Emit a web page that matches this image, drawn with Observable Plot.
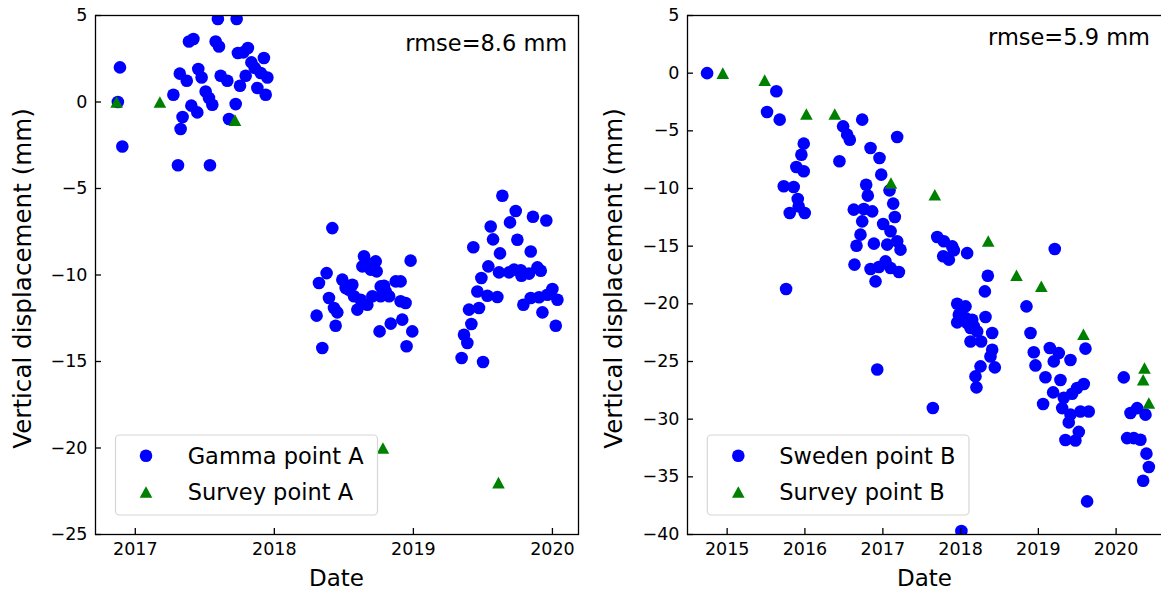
<!DOCTYPE html>
<html>
<head>
<meta charset="utf-8">
<script src="https://cdn.jsdelivr.net/npm/d3@7"></script>
<script src="https://cdn.jsdelivr.net/npm/@observablehq/plot@0.6"></script>
<style>
  html, body { margin: 0; padding: 0; background: #fff; overflow: hidden; }
  #wrap { position: relative; width: 1161px; height: 594px; overflow: hidden; }
  #wrap svg { position: absolute; top: 0; }
</style>
</head>
<body>
<div id="wrap"></div>
<script>
// Observations as [decimal year, vertical displacement in mm]
const gammaA = [
  [2016.875, 0.0], [2016.89, 2.0], [2016.907, -2.57],
  [2017.274, 0.42], [2017.307, -3.66], [2017.32, 1.64], [2017.326, -1.56], [2017.34, -0.87],
  [2017.37, 1.23], [2017.386, 3.5], [2017.403, -0.21], [2017.418, 3.64], [2017.446, -0.6],
  [2017.453, 1.91], [2017.477, 1.42], [2017.506, 0.61], [2017.53, 0.23], [2017.537, -3.66],
  [2017.554, -0.16], [2017.578, 3.5], [2017.594, 4.8], [2017.602, 3.21], [2017.614, 1.52],
  [2017.662, 1.23], [2017.674, -0.98], [2017.722, -0.12], [2017.729, 4.8], [2017.738, 2.83],
  [2017.753, 0.94], [2017.777, 2.87], [2017.794, 1.52], [2017.81, 3.12], [2017.835, 2.29],
  [2017.859, 1.97], [2017.878, 0.81], [2017.902, 1.68], [2017.925, 2.54], [2017.938, 0.42],
  [2017.95, 1.42],
  [2018.304, -12.35], [2018.321, -10.46], [2018.345, -14.22], [2018.376, -9.89], [2018.393, -11.33],
  [2018.417, -7.29], [2018.429, -11.91], [2018.441, -12.93], [2018.453, -12.16], [2018.489, -10.27],
  [2018.513, -10.75], [2018.537, -10.85], [2018.561, -10.56], [2018.573, -11.23], [2018.597, -12.0],
  [2018.621, -11.43], [2018.633, -9.5], [2018.645, -8.92], [2018.669, -9.31], [2018.669, -11.72],
  [2018.693, -9.69], [2018.705, -11.23], [2018.729, -9.21], [2018.736, -9.79], [2018.757, -13.26],
  [2018.765, -11.23], [2018.765, -10.66], [2018.789, -10.62], [2018.801, -10.95], [2018.825, -11.23],
  [2018.837, -12.81], [2018.873, -10.37], [2018.908, -10.37], [2018.908, -11.52], [2018.92, -12.58],
  [2018.944, -11.62], [2018.951, -14.12], [2018.98, -9.17], [2018.992, -13.26],
  [2019.347, -14.8], [2019.364, -13.45], [2019.388, -13.93], [2019.4, -12.0], [2019.417, -12.83],
  [2019.431, -8.4], [2019.46, -10.95], [2019.472, -11.91], [2019.489, -10.17], [2019.501, -15.03],
  [2019.532, -11.2], [2019.539, -9.5], [2019.556, -7.2], [2019.573, -7.94], [2019.604, -11.27],
  [2019.616, -9.85], [2019.623, -8.75], [2019.64, -5.42], [2019.688, -9.85], [2019.695, -6.96],
  [2019.724, -9.69], [2019.736, -6.3], [2019.748, -7.96], [2019.772, -9.73], [2019.777, -10.04],
  [2019.791, -11.72], [2019.832, -9.92], [2019.844, -8.64], [2019.844, -11.33], [2019.86, -6.63],
  [2019.892, -9.56], [2019.904, -11.29], [2019.916, -9.75], [2019.928, -12.16], [2019.956, -6.85],
  [2019.964, -11.14], [2020.0, -10.81], [2020.024, -12.93], [2020.036, -11.43]
];
const surveyA = [
  [2016.866, 0.0], [2017.177, 0.0], [2017.717, -1.05], [2018.781, -20.0], [2019.612, -22.0]
];
const swedenB = [
  [2014.742, 0.0], [2015.513, -3.37], [2015.633, -1.57], [2015.676, -4.03], [2015.728, -9.81],
  [2015.758, -18.71], [2015.805, -12.12], [2015.856, -9.87], [2015.89, -8.14], [2015.908, -10.91],
  [2015.92, -11.55], [2015.955, -7.07], [2015.985, -6.11], [2015.985, -8.51], [2015.998, -12.12],
  [2016.443, -7.64], [2016.49, -4.61], [2016.542, -5.33], [2016.576, -5.77], [2016.627, -11.83],
  [2016.636, -16.6], [2016.662, -14.96], [2016.713, -14.0], [2016.735, -4.03], [2016.735, -12.85],
  [2016.756, -11.78], [2016.786, -9.67], [2016.807, -10.62], [2016.842, -6.49], [2016.842, -16.98],
  [2016.863, -11.98], [2016.885, -14.78], [2016.906, -18.05], [2016.928, -25.7], [2016.949, -16.81],
  [2016.957, -7.36], [2016.979, -8.8], [2017.004, -13.08], [2017.034, -16.32], [2017.056, -14.87],
  [2017.086, -10.16], [2017.099, -13.71], [2017.099, -16.89], [2017.133, -11.31], [2017.154, -12.47],
  [2017.184, -5.53], [2017.184, -14.58], [2017.206, -17.24], [2017.227, -15.3],
  [2017.643, -29.03], [2017.699, -14.21], [2017.776, -15.88], [2017.784, -14.58], [2017.849, -16.17],
  [2017.892, -15.02], [2017.913, -15.36], [2017.956, -19.99], [2017.956, -21.61], [2017.977, -20.94],
  [2018.01, -39.7], [2018.063, -20.22], [2018.063, -21.23], [2018.084, -15.6], [2018.084, -21.67],
  [2018.127, -22.1], [2018.127, -23.26], [2018.149, -21.38], [2018.17, -21.95], [2018.191, -26.29],
  [2018.204, -27.24], [2018.213, -22.39], [2018.256, -25.42], [2018.264, -23.26], [2018.312, -18.92],
  [2018.32, -21.14], [2018.35, -17.56], [2018.384, -24.56], [2018.406, -22.53], [2018.406, -23.98],
  [2018.44, -25.51],
  [2018.847, -20.22], [2018.899, -22.53], [2018.941, -24.2], [2018.963, -25.34], [2019.061, -28.68],
  [2019.091, -26.37], [2019.147, -23.83], [2019.19, -27.68], [2019.198, -24.99], [2019.211, -15.25],
  [2019.263, -24.27], [2019.284, -26.6], [2019.306, -29.04], [2019.327, -28.14], [2019.348, -31.8],
  [2019.391, -30.28], [2019.413, -24.87], [2019.413, -29.61], [2019.434, -27.8], [2019.477, -31.85],
  [2019.498, -27.3], [2019.52, -31.1], [2019.541, -29.33], [2019.584, -26.95], [2019.606, -23.88],
  [2019.627, -37.13], [2019.648, -29.33],
  [2020.098, -26.38], [2020.141, -31.64], [2020.184, -29.47], [2020.227, -31.64], [2020.27, -29.04],
  [2020.312, -31.78], [2020.347, -35.34], [2020.377, -29.61], [2020.389, -32.99], [2020.42, -34.15]
];
const surveyB = [
  [2014.944, 0.0], [2015.483, -0.6], [2016.019, -3.54], [2016.383, -3.54], [2017.104, -9.52],
  [2017.668, -10.54], [2018.355, -14.55], [2018.719, -17.52], [2019.038, -18.48], [2019.58, -22.64],
  [2020.347, -26.58], [2020.364, -25.57], [2020.42, -28.6]
];

// Axis ticks and texts
const yTicksA = [5, 0, -5, -10, -15, -20, -25];
const yTicksB = [5, 0, -5, -10, -15, -20, -25, -30, -35, -40];
const xTicksA = [2017, 2018, 2019, 2020];
const xTicksB = [2015, 2016, 2017, 2018, 2019, 2020];
const xDomainA = [2016.7146, 2020.187];
const xDomainB = [2014.49, 2020.595];
const yDomainA = [-25, 5];
const yDomainB = [-40, 5];
const rmseA = "rmse=8.6 mm";
const rmseB = "rmse=5.9 mm";
const labelsA = ["Gamma point A", "Survey point A"];
const labelsB = ["Sweden point B", "Survey point B"];
const xLabel = "Date";
const yLabel = "Vertical displacement (mm)";

const H = 594, TOP = 15, BOTTOM = 534;
const FONT = "DejaVu Sans";
const BLUE = "#0000ff", GREEN = "#008000";
const DOT_R = 6.3;

// decimal year -> UTC date
function yearDate(y) {
  const yr = Math.floor(y);
  const a = Date.UTC(yr, 0, 1), b = Date.UTC(yr + 1, 0, 1);
  return new Date(a + (y - yr) * (b - a));
}

// upward triangle centred on its bounding box
const triUp = {
  draw(ctx, size) {
    const r = Math.sqrt(size / Math.PI);
    const w = r * 1.0, h = r * 0.92;
    ctx.moveTo(0, -h);
    ctx.lineTo(w, h);
    ctx.lineTo(-w, h);
    ctx.closePath();
  }
};

function panel(cfg) {
  const chart = Plot.plot({
    width: cfg.width,
    height: H,
    marginLeft: cfg.frameLeft,
    marginRight: cfg.width - cfg.frameRight,
    marginTop: TOP,
    marginBottom: H - BOTTOM,
    style: {fontFamily: FONT, fontSize: "17.5px", color: "#000", background: "transparent", overflow: "visible"},
    x: {type: "utc", domain: cfg.xDomain.map(yearDate)},
    y: {domain: cfg.yDomain},
    marks: [
      Plot.dot(cfg.sat, {x: d => yearDate(d[0]), y: d => d[1], r: DOT_R, fill: BLUE, clip: true}),
      Plot.dot(cfg.survey, {x: d => yearDate(d[0]), y: d => d[1], r: DOT_R, fill: GREEN, symbol: triUp, clip: true}),
      Plot.axisY(cfg.yTicks, {tickSize: -6, tickPadding: 14, tickFormat: d3.format("d"), label: null, strokeWidth: 1.3}),
      Plot.axisX(cfg.xTicks.map(yearDate), {tickSize: -6, tickPadding: 14, tickFormat: d3.utcFormat("%Y"), label: null, strokeWidth: 1.3}),
      Plot.frame({stroke: "#000", strokeWidth: 1.3})
    ]
  });
  chart.style.left = cfg.left + "px";
  const svg = d3.select(chart);

  // rmse annotation
  svg.append("text")
    .attr("x", cfg.rmseRight).attr("y", cfg.rmseBaseline)
    .attr("text-anchor", "end")
    .style("font-family", FONT).style("font-size", "22.5px").attr("fill", "#000")
    .text(cfg.rmse);

  // axis titles
  svg.append("text")
    .attr("x", (cfg.frameLeft + cfg.frameRight) / 2).attr("y", 586)
    .attr("text-anchor", "middle")
    .style("font-family", FONT).style("font-size", "23px").attr("fill", "#000")
    .text(xLabel);
  svg.append("text")
    .attr("transform", `translate(${cfg.yLabelX},278.5) rotate(-90)`)
    .attr("text-anchor", "middle")
    .style("font-family", FONT).style("font-size", "24.6px").attr("fill", "#000")
    .text(yLabel);

  // legend
  const L = cfg.legend;
  const g = svg.append("g").attr("text-anchor", "start");
  g.append("rect")
    .attr("x", L.x).attr("y", 435).attr("width", L.w).attr("height", 80)
    .attr("rx", 4).attr("fill", "#fff").attr("fill-opacity", 0.8)
    .attr("stroke", "#d6d6d6").attr("stroke-width", 1.2);
  g.append("circle").attr("cx", L.mx).attr("cy", 455.7).attr("r", DOT_R).attr("fill", BLUE);
  const p = d3.path();
  triUp.draw(p, Math.PI * DOT_R * DOT_R);
  g.append("path").attr("d", p.toString()).attr("transform", `translate(${L.mx},492)`).attr("fill", GREEN);
  [[cfg.labels[0], 463.5], [cfg.labels[1], 499.5]].forEach(([t, y]) => {
    g.append("text").attr("x", L.tx).attr("y", y)
      .attr("text-anchor", "start")
      .style("font-family", FONT).style("font-size", "22.5px").attr("fill", "#000")
      .text(t);
  });
  document.getElementById("wrap").appendChild(chart);
}

panel({
  left: 0, width: 590, frameLeft: 95, frameRight: 578,
  xDomain: xDomainA, yDomain: yDomainA, xTicks: xTicksA, yTicks: yTicksA,
  sat: gammaA, survey: surveyA, rmse: rmseA, rmseRight: 567.3, rmseBaseline: 50.5,
  yLabelX: 30.7, labels: labelsA,
  legend: {x: 115.5, w: 262, mx: 146, tx: 187.7}
});
panel({
  left: 590, width: 575, frameLeft: 97, frameRight: 572,
  xDomain: xDomainB, yDomain: yDomainB, xTicks: xTicksB, yTicks: yTicksB,
  sat: swedenB, survey: surveyB, rmse: rmseB, rmseRight: 560, rmseBaseline: 45,
  yLabelX: 32.3, labels: labelsB,
  legend: {x: 117.3, w: 261.7, mx: 148.3, tx: 189.3}
});
</script>
</body>
</html>
